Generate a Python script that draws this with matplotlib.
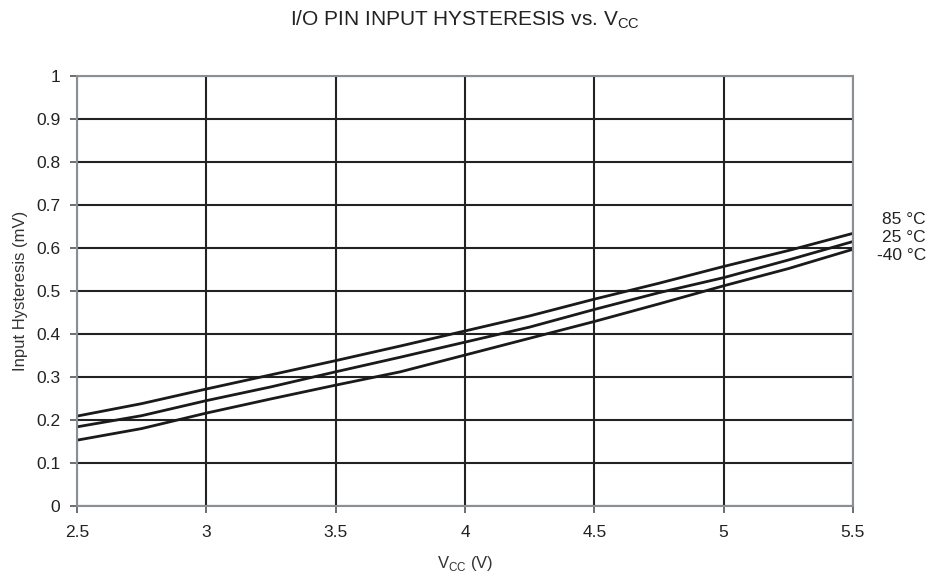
import matplotlib
matplotlib.use("Agg")
import matplotlib.pyplot as plt

plt.rcParams['font.family'] = ['Liberation Sans', 'DejaVu Sans']
plt.rcParams['mathtext.fontset'] = 'custom'
plt.rcParams['mathtext.rm'] = 'Liberation Sans'

# measured data
vcc = [2.5, 2.75, 3.0, 3.25, 3.5, 3.75, 4.0, 4.25, 4.5, 4.75, 5.0, 5.25, 5.5]
hyst_85 = [0.209, 0.238, 0.272, 0.305, 0.338, 0.372, 0.407, 0.442, 0.481, 0.518, 0.557, 0.594, 0.634]
hyst_25 = [0.184, 0.210, 0.245, 0.277, 0.312, 0.346, 0.381, 0.416, 0.457, 0.496, 0.531, 0.572, 0.615]
hyst_m40 = [0.153, 0.180, 0.216, 0.249, 0.281, 0.312, 0.351, 0.390, 0.429, 0.470, 0.512, 0.552, 0.597]
labels = ['85 °C', '25 °C', '-40 °C']

fig = plt.figure(figsize=(9.42, 5.84), dpi=100)
ax = fig.add_axes([0.0817, 0.1336, 0.8238, 0.7363])

for y in [hyst_85, hyst_25, hyst_m40]:
    ax.plot(vcc, y, color='#1a1a1a', lw=2.0)

ax.set_xlim(2.5, 5.5)
ax.set_ylim(0, 1)
ax.set_xticks([2.5, 3, 3.5, 4, 4.5, 5, 5.5])
ax.set_xticklabels(['2.5', '3', '3.5', '4', '4.5', '5', '5.5'])
ax.set_yticks([i / 10 for i in range(11)])
ax.set_yticklabels(['0', '0.1', '0.2', '0.3', '0.4', '0.5', '0.6', '0.7', '0.8', '0.9', '1'])
ax.grid(True, color='#222222', lw=1.5)
ax.set_axisbelow(True)
for s in ax.spines.values():
    s.set_color('#8a8f96')
    s.set_linewidth(1.5)
ax.tick_params(direction='out', length=5, width=1.2, color='#555555',
               labelsize=12.5, labelcolor='#222222')
ax.tick_params(axis='y', pad=7)
ax.tick_params(axis='x', pad=9)

ax.set_xlabel('V$_{\\rm CC}$ (V)', fontsize=12, color='#333333', labelpad=10)
ax.set_ylabel('Input Hysteresis (mV)', fontsize=12, color='#333333', labelpad=6)
fig.text(0.494, 0.966, 'I/O PIN INPUT HYSTERESIS vs. V$_{\\rm CC}$', ha='center', va='center',
         fontsize=15, color='#222222')

for i, lab in enumerate(labels):
    ax.annotate(lab, xy=(1.0, 0), xycoords='axes fraction',
                xytext=(926, 584 - 220 - i * 17.5), textcoords='figure pixels',
                ha='right', va='center', fontsize=12.5, color='#222222')

fig.savefig('out.png', dpi=100)
